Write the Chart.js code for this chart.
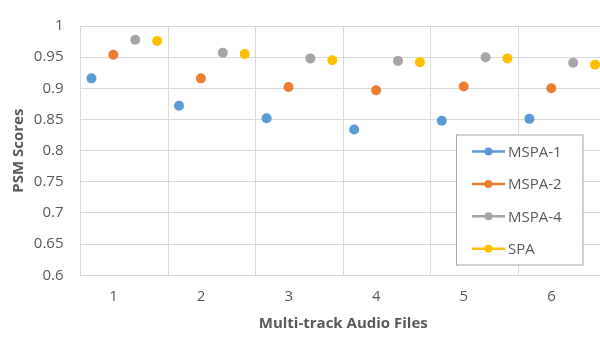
<!DOCTYPE html>
<html>
<head>
<meta charset="utf-8">
<script src="https://cdn.jsdelivr.net/npm/chart.js@4.4.1/dist/chart.umd.min.js"></script>
<style>
    html, body { margin: 0; padding: 0; background: #fff; overflow: hidden; }
    #chart-container { position: relative; width: 611px; height: 337px; }
</style>
</head>
<body>
<div id="chart-container"><canvas id="chart"></canvas></div>
<script>
const FILES = ['1', '2', '3', '4', '5', '6'];
const MSPA_1 = [0.916, 0.872, 0.852, 0.834, 0.848, 0.851];
const MSPA_2 = [0.954, 0.916, 0.902, 0.897, 0.903, 0.900];
const MSPA_4 = [0.978, 0.957, 0.948, 0.944, 0.950, 0.941];
const SPA = [0.976, 0.955, 0.945, 0.942, 0.948, 0.938];
const Y_TICKS = [0.6, 0.65, 0.7, 0.75, 0.8, 0.85, 0.9, 0.95, 1];

const SERIES = [
    { label: 'MSPA-1', values: MSPA_1, color: '#5B9BD5' },
    { label: 'MSPA-2', values: MSPA_2, color: '#ED7D31' },
    { label: 'MSPA-4', values: MSPA_4, color: '#A5A5A5' },
    { label: 'SPA', values: SPA, color: '#FFC000' }
];

const TEXT = '#595959';
const GRID = '#d9d9d9';

// each file gets one slot, the four series sit side by side inside it
function toPoints(values, k) {
    return values.map((v, i) => ({ x: i + 1 - 0.5 + (k + 0.5) / SERIES.length, y: v }));
}

// legend box drawn inside the plot, like the Excel one
const boxLegend = {
    id: 'boxLegend',
    afterDraw(chart) {
        const ctx = chart.ctx;
        const left = 456, top = 134.5, w = 126.5, h = 130;
        ctx.save();
        ctx.fillStyle = '#fff';
        ctx.fillRect(left, top, w, h);
        ctx.strokeStyle = '#a6a6a6';
        ctx.lineWidth = 1;
        ctx.strokeRect(left + 0.5, top + 0.5, w, h);
        ctx.font = '15px "Open Sans"';
        ctx.textBaseline = 'middle';
        chart.data.datasets.forEach((ds, i) => {
            const y = 151.5 + i * 32.4;
            ctx.strokeStyle = ds.backgroundColor;
            ctx.lineWidth = 2.5;
            ctx.beginPath();
            ctx.moveTo(472, y);
            ctx.lineTo(505, y);
            ctx.stroke();
            ctx.fillStyle = ds.backgroundColor;
            ctx.beginPath();
            ctx.arc(488.5, y, 4, 0, Math.PI * 2);
            ctx.fill();
            ctx.fillStyle = TEXT;
            ctx.fillText(ds.label, 508, y + 1);
        });
        ctx.restore();
    }
};

new Chart(document.getElementById('chart'), {
    type: 'scatter',
    data: {
        datasets: SERIES.map((s, k) => ({
            label: s.label,
            data: toPoints(s.values, k),
            backgroundColor: s.color,
            borderColor: s.color,
            borderWidth: 0,
            pointRadius: 5,
            pointHoverRadius: 5
        }))
    },
    options: {
        responsive: true,
        maintainAspectRatio: false,
        animation: false,
        events: [],
        layout: { padding: { top: 6.7, right: 1.3, bottom: 0, left: 0 } },
        plugins: {
            legend: { display: false },
            tooltip: { enabled: false }
        },
        scales: {
            x: {
                type: 'linear',
                min: 0.5,
                max: FILES.length + 0.5,
                afterBuildTicks: (scale) => {
                    scale.ticks = FILES.map((f, i) => ({ value: i + 0.5 }));
                },
                afterFit: (scale) => { scale.height = 61.7; },
                grid: { color: GRID, lineWidth: 1, drawTicks: false },
                border: { display: false },
                ticks: {
                    callback: (v, i) => FILES[i],
                    labelOffset: 33,
                    padding: 12,
                    maxRotation: 0,
                    autoSkip: false,
                    color: TEXT,
                    font: { family: 'Open Sans', size: 15 }
                },
                title: {
                    display: true,
                    text: 'Multi-track Audio Files',
                    color: TEXT,
                    padding: { top: 0, bottom: 4 },
                    font: { family: 'Open Sans', size: 15, weight: 'bold' }
                }
            },
            y: {
                min: 0.6,
                max: 1,
                afterBuildTicks: (scale) => {
                    scale.ticks = Y_TICKS.map(v => ({ value: v }));
                },
                afterFit: (scale) => { scale.width = 80.5; },
                grid: { color: GRID, lineWidth: 1, drawTicks: false },
                border: { color: GRID },
                ticks: {
                    callback: (v) => String(+v.toFixed(2)),
                    padding: 17,
                    color: TEXT,
                    font: { family: 'Open Sans', size: 15 }
                },
                title: {
                    display: true,
                    text: 'PSM Scores',
                    color: TEXT,
                    padding: { top: 10, bottom: 0 },
                    font: { family: 'Open Sans', size: 15, weight: 'bold' }
                }
            }
        }
    },
    plugins: [boxLegend]
});
</script>
</body>
</html>
